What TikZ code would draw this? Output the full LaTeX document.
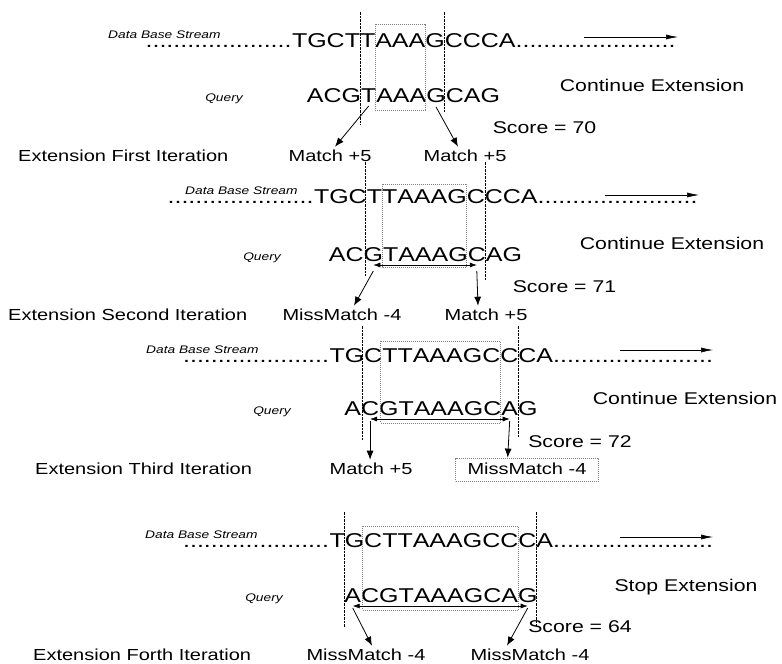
\documentclass[tikz,border=0pt]{standalone}
\usepackage{fontspec}
\setmainfont{Liberation Sans}[FakeStretch=1.25]
\usetikzlibrary{arrows.meta,calc}

\tikzset{
  seqch/.style={inner sep=0pt, outer sep=0pt, anchor=base west,
    font=\fontsize{20}{24}\selectfont, text height=14.5pt, text depth=0pt},
  dotrow/.style={inner sep=0pt, outer sep=0pt, font=\fontsize{20}{24}\selectfont},
  dbtag/.style={inner sep=0pt, font=\fontsize{11}{13}\selectfont\itshape},
  bottomtag/.style={inner xsep=0pt, inner ysep=2.5pt, font=\fontsize{16}{19}\selectfont},
  statustext/.style={inner sep=0pt, anchor=base, font=\fontsize{17}{20}\selectfont},
  extline/.style={line width=0.6pt, dash pattern=on 2.5pt off 1pt},
  seedbox/.style={draw=gray, line width=0.6pt, dash pattern=on 1pt off 1pt},
  hitarrow/.style={arrows={-Latex[length=9pt,width=7pt]}, line width=0.8pt},
  twinarrow/.style={arrows={Latex[length=7pt,width=5pt]-Latex[length=7pt,width=5pt]}, line width=0.6pt},
  flowarrow/.style={arrows={-Latex[length=12pt,width=5pt]}, line width=0.6pt},
}

% a row of letters, one node per letter: #1-1, #1-2, ... ; #1-0 marks the start
\newcommand{\seqrow}[3]{%
  \node[inner sep=0pt, outer sep=0pt, anchor=base west] (#1-0) at #2 {};
  \foreach \ch [count=\i, remember=\i as \j (initially 0)] in {#3}
    \node[seqch] (#1-\i) at (#1-\j.base east) {\ch};
}

% database row, query row and their small tags
% #1 id, #2 x of database row, #3 database baseline, #4 query baseline,
% #5 x of database tag, #6 x of query tag centre
\newcommand{\panelrows}[6]{%
  \seqrow{d#1}{(#2,#3)}{T,G,C,T,T,A,A,A,G,C,C,C,A}
  \node[dotrow, anchor=base east] (ld#1) at (d#1-0.base) {.....................};
  \node[dotrow, anchor=base west] (rd#1) at (d#1-13.base east) {.......................};
  \node[dbtag, anchor=base west] (db#1) at (#5,#3-9) {Data Base Stream};
  \node[seqch, anchor=base east] (qp#1) at (d#1-4.base east |- 0,#4) {\phantom{ACG}};
  \seqrow{q#1}{(qp#1.base west)}{A,C,G,T,A,A,A,G,C,A,G}
  \node[dbtag, anchor=base] (ql#1) at (#6,#4-1) {Query};
}

% dashed extension limit at the mean x of two points
\newcommand{\extmark}[4]{%
  \path ($(#1)!0.5!(#2)$) coordinate (xm);
  \draw[extline] (xm |- 0,#3) -- (xm |- 0,#4);
}

\begin{document}
\begin{tikzpicture}[x=1pt,y=-1pt]
\useasboundingbox (0,0) rectangle (782,664);
\fill[white] (0,0) rectangle (782,664);

% ---------- first iteration ----------
\panelrows{1}{291}{47}{102}{108}{224}
\extmark{d1-4.base east}{d1-4.base east}{12}{125}
\extmark{d1-9.base east}{d1-9.base east}{12}{112}
\path (d1-5.base east) coordinate (r1l) (d1-8.base east) coordinate (r1r);
\draw[seedbox] (r1l |- 0,24) rectangle (r1r |- 0,110);
\node[statustext] (c1) at (652,91) {Continue Extension};
\node[statustext] (s1) at (544.5,133) {Score = 70};
\node[bottomtag, anchor=base west] (e1) at (18,161) {Extension First Iteration};
\node[bottomtag, anchor=base] (m1a) at (330,161) {Match +5};
\node[bottomtag, anchor=base] (m1b) at (465,161) {Match +5};
\draw[hitarrow] (q1-4.base |- 0,106) -- ($(m1a.north)+(5,0)$);
\draw[hitarrow] (q1-8.base |- 0,107) -- ($(m1b.north)+(-7,0)$);
\coordinate (a1s) at (584,37);
\coordinate (a1e) at (678,37);
\draw[flowarrow] (a1s) -- (a1e);

% ---------- second iteration ----------
\panelrows{2}{313}{203}{261}{185}{262}
\extmark{d2-3.base east}{q2-2.base east}{162}{276}
\extmark{d2-10.base east}{d2-10.base east}{162}{280}
\path (d2-4.base east) coordinate (r2l) (d2-9.base east) coordinate (r2r);
\draw[seedbox] (r2l |- 0,184) rectangle (r2r |- 0,267);
\draw[twinarrow] (q2-3.base |- 0,265) -- (q2-9.base |- 0,265);
\node[statustext] (c2) at (672,249.5) {Continue Extension};
\node[statustext] (s2) at (564.5,292) {Score = 71};
\node[bottomtag, anchor=base west] (e2) at (8,320) {Extension Second Iteration};
\node[bottomtag, anchor=base] (m2a) at (342,320) {MissMatch -4};
\node[bottomtag, anchor=base] (m2b) at (486,320) {Match +5};
\draw[hitarrow] (q2-3.base |- 0,271) -- ($(m2a.north)+(12,0)$);
\draw[hitarrow] (q2-9.base |- 0,271) -- ($(m2b.north)+(-8,0)$);
\coordinate (a2s) at (605,195);
\coordinate (a2e) at (699,195);
\draw[flowarrow] (a2s) -- (a2e);

% ---------- third iteration ----------
\panelrows{3}{328.5}{362}{415}{146}{272}
\extmark{d3-2.base east}{q3-1.base east}{326}{440}
\extmark{d3-11.base east}{q3-10.base east}{326}{438}
\path ($(d3-3.base east)!0.5!(q3-2.base east)$) coordinate (r3l) (d3-10.base east) coordinate (r3r);
\draw[seedbox] (r3l |- 0,341) rectangle (r3r |- 0,423);
\draw[twinarrow] (q3-2.base |- 0,419) -- (q3-10.base |- 0,419);
\node[statustext] (c3) at (685,404) {Continue Extension};
\node[statustext] (s3) at (580,447) {Score = 72};
\node[bottomtag, anchor=base west] (e3) at (35,474) {Extension Third Iteration};
\node[bottomtag, anchor=base] (m3a) at (371,474) {Match +5};
\node[bottomtag, anchor=base, draw=gray, line width=0.6pt, dash pattern=on 1pt off 1pt,
      inner xsep=12pt, inner ysep=4.5pt, text height=11.6pt, text depth=2.5pt] (m3b) at (527,474) {MissMatch -4};
\draw[hitarrow] (q3-2.base |- 0,421) -- (q3-2.base |- m3a.north);
\draw[hitarrow] (q3-10.base |- 0,421) -- ($(q3-10.base |- m3b.north)+(-2,0)$);
\coordinate (a3s) at (620,350);
\coordinate (a3e) at (713,350);
\draw[flowarrow] (a3s) -- (a3e);

% ---------- fourth iteration ----------
\panelrows{4}{328.5}{547}{602}{145}{264}
\extmark{d4-1.base east}{q4-0.base}{512}{627}
\extmark{d4-12.base east}{d4-12.base east}{512}{627}
\path ($(d4-2.base east)!0.5!(q4-1.base east)$) coordinate (r4l)
      ($(d4-11.base east)!0.5!(q4-10.base east)$) coordinate (r4r);
\draw[seedbox] (r4l |- 0,526) rectangle (r4r |- 0,610);
\draw[twinarrow] (q4-1.base |- 0,606) -- (q4-11.base |- 0,606);
\node[statustext] (c4) at (686,591) {Stop Extension};
\node[statustext] (s4) at (580,632) {Score = 64};
\node[bottomtag, anchor=base west] (e4) at (33,660) {Extension Forth Iteration};
\node[bottomtag, anchor=base] (m4a) at (366,660) {MissMatch -4};
\node[bottomtag, anchor=base] (m4b) at (530,660) {MissMatch -4};
\draw[hitarrow] (q4-1.base |- 0,608) -- ($(m4a.north)+(6,0)$);
\draw[hitarrow] (q4-11.base |- 0,608) -- ($(m4b.north)+(-23,0)$);
\coordinate (a4s) at (620,537);
\coordinate (a4e) at (713,537);
\draw[flowarrow] (a4s) -- (a4e);
\end{tikzpicture}
\end{document}
